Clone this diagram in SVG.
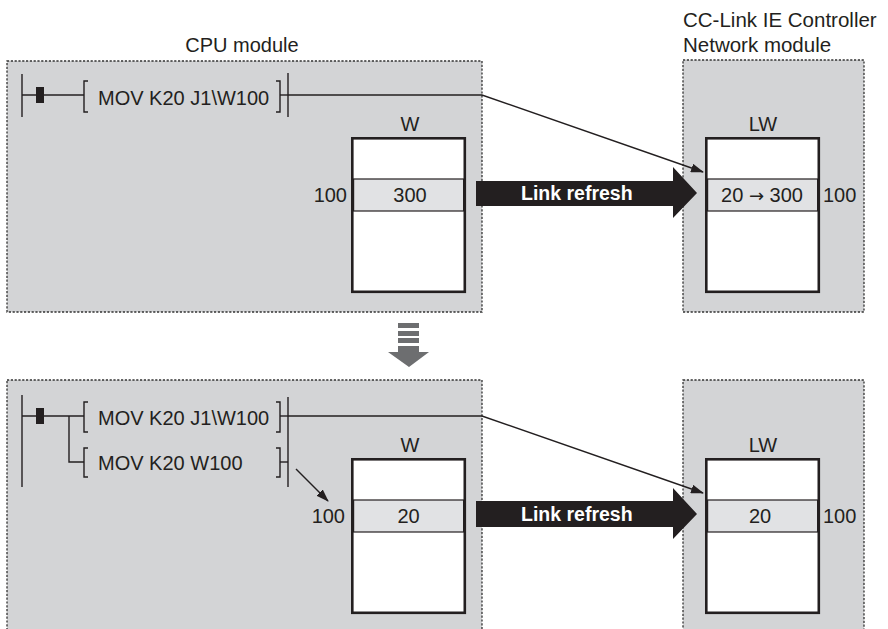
<svg xmlns="http://www.w3.org/2000/svg" width="888" height="629" viewBox="0 0 888 629">
<style>
text{font-family:"Liberation Sans",Arial,sans-serif;font-size:20px;fill:#231f20}
.panel{fill:#d3d4d6;stroke:#333;stroke-width:1.3;stroke-dasharray:2.2 1.6}
.box{fill:#fff;stroke:#231f20;stroke-width:2.6}
.row{fill:#e1e2e4;stroke:#231f20;stroke-width:1.2}
.ln{fill:none;stroke:#231f20;stroke-width:1.4}
.lr{fill:#fff;font-weight:bold;font-size:19.5px}
.mid{text-anchor:middle}
.arr{font-family:"DejaVu Sans",sans-serif;font-size:18px}
</style>
<defs>
<marker id="ah" viewBox="0 0 13 9" refX="12" refY="4.5" markerWidth="13" markerHeight="9" markerUnits="userSpaceOnUse" orient="auto">
<path d="M0,0 L13,4.5 L0,9 Z" fill="#231f20"/>
</marker>
</defs>

<!-- panels -->
<g id="cpu-top">
<rect class="panel" x="7" y="61" width="475" height="251"/>
<text class="mid" x="242" y="52">CPU module</text>
</g>
<g id="net-top">
<rect class="panel" x="683" y="60" width="181" height="252"/>
<text x="683" y="27" style="font-size:20.5px">CC-Link IE Controller</text>
<text x="683" y="52" style="font-size:20.5px">Network module</text>
</g>
<g id="cpu-bottom">
<rect class="panel" x="7" y="380" width="475" height="260"/>
</g>
<g id="net-bottom">
<rect class="panel" x="683" y="380" width="181" height="260"/>
</g>

<!-- top ladder -->
<g id="ladder-top">
<line class="ln" x1="22" y1="74" x2="22" y2="117"/>
<line class="ln" x1="22" y1="95" x2="84" y2="95"/>
<rect x="36" y="87" width="8" height="16" fill="#231f20"/>
<path class="ln" d="M88,81 H84 V112 H88"/>
<text x="98" y="105">MOV K20 J1\W100</text>
<path class="ln" d="M276,81 H280 V112 H276"/>
<line class="ln" x1="280" y1="95" x2="288" y2="95"/>
<line class="ln" x1="288" y1="73" x2="288" y2="117"/>
</g>

<!-- top W -->
<g id="w-top">
<text class="mid" x="410" y="131">W</text>
<rect class="box" x="352.3" y="138.3" width="112.5" height="153.5"/>
<rect class="row" x="353.6" y="179" width="110" height="32"/>
<text x="347" y="202" text-anchor="end">100</text>
<text class="mid" x="410" y="202">300</text>
</g>

<!-- top LW -->
<g id="lw-top">
<text class="mid" x="763" y="131">LW</text>
<rect class="box" x="706.3" y="138.3" width="112.5" height="153.5"/>
<rect class="row" x="707.6" y="179" width="110" height="32"/>
<text class="mid" x="762" y="202">20 <tspan class="arr">→</tspan> 300</text>
<text x="823" y="202">100</text>
</g>

<!-- bottom ladder -->
<g id="ladder-bottom">
<line class="ln" x1="22" y1="395" x2="22" y2="487"/>
<line class="ln" x1="22" y1="416" x2="84" y2="416"/>
<rect x="36" y="408" width="8" height="16" fill="#231f20"/>
<path class="ln" d="M69,416 V462 H84"/>
<path class="ln" d="M88,402 H84 V432 H88"/>
<text x="98" y="425">MOV K20 J1\W100</text>
<path class="ln" d="M276,402 H280 V432 H276"/>
<line class="ln" x1="280" y1="416" x2="288" y2="416"/>
<path class="ln" d="M88,448 H84 V477 H88"/>
<text x="98" y="470">MOV K20 W100</text>
<path class="ln" d="M276,448 H280 V477 H276"/>
<line class="ln" x1="280" y1="462" x2="288" y2="462"/>
<line class="ln" x1="288" y1="397" x2="288" y2="487"/>
</g>

<!-- bottom W -->
<g id="w-bottom">
<text class="mid" x="410" y="452">W</text>
<rect class="box" x="352.3" y="459.3" width="112.5" height="153.5"/>
<rect class="row" x="353.6" y="500" width="110" height="32"/>
<text x="345" y="523" text-anchor="end">100</text>
<text class="mid" x="408.5" y="523">20</text>
</g>

<!-- bottom LW -->
<g id="lw-bottom">
<text class="mid" x="763" y="452">LW</text>
<rect class="box" x="706.3" y="459.3" width="112.5" height="153.5"/>
<rect class="row" x="707.6" y="500" width="110" height="32"/>
<text class="mid" x="760" y="523">20</text>
<text x="823" y="523">100</text>
</g>

<!-- link refresh arrows -->
<g id="refresh-top">
<path d="M476,181 H673 V167 L697,193 L673,218 V206 H476 Z" fill="#231f20"/>
<text class="lr" x="521" y="200">Link refresh</text>
</g>
<g id="refresh-bottom">
<path d="M476,501 H673 V488 L697,514 L673,539 V527 H476 Z" fill="#231f20"/>
<text class="lr" x="521" y="521">Link refresh</text>
</g>

<!-- transition arrow -->
<g id="step-arrow" fill="#6d6e70">
<rect x="398" y="323" width="21" height="5"/>
<rect x="398" y="331" width="21" height="5"/>
<rect x="398" y="338" width="21" height="5"/>
<path d="M398,346 H419 V352 H429 L409,367 L388,352 H398 Z"/>
</g>

<!-- connectors -->
<g id="connectors">
<path class="ln" d="M288,95 H482 L703,172" marker-end="url(#ah)"/>
<path class="ln" d="M288,416 H482 L703,493" marker-end="url(#ah)"/>
<line class="ln" x1="296" y1="469" x2="328" y2="501" marker-end="url(#ah)"/>
</g>
</svg>
